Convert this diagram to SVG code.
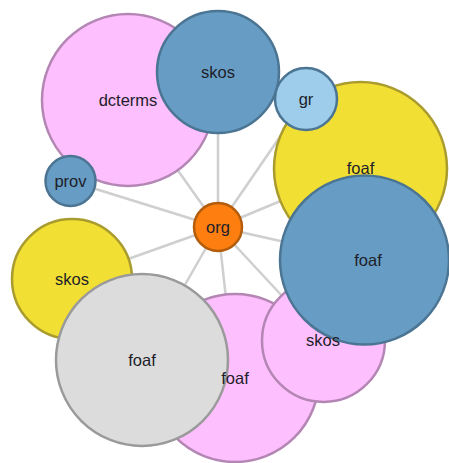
<svg xmlns="http://www.w3.org/2000/svg" width="449" height="463" viewBox="0 0 449 463">
<style>
.link{stroke:#cfcfcf;stroke-width:2.5;fill:none}
circle{stroke-width:2.5}
.pink{fill:#fdbffd;stroke:#b486b4}
.blue{fill:#679dc4;stroke:#4b7593}
.lblue{fill:#9dcdea;stroke:#4b7593}
.yellow{fill:#f2df33;stroke:#a99b2e}
.gray{fill:#dcdcdc;stroke:#9a9a9a}
.orange{fill:#fe7f0f;stroke:#b25c0c}
text{font-family:"Liberation Sans",Arial,sans-serif;font-size:16.5px;fill:#1e1e2a;text-anchor:middle}
</style>
<rect width="449" height="463" fill="#fff"/>
<g id="links">
<line class="link" x1="218" y1="227" x2="128" y2="100"/>
<line class="link" x1="218" y1="227" x2="218" y2="72"/>
<line class="link" x1="218" y1="227" x2="306" y2="99"/>
<line class="link" x1="218" y1="227" x2="360" y2="168"/>
<line class="link" x1="218" y1="227" x2="365" y2="260"/>
<line class="link" x1="218" y1="227" x2="323" y2="340"/>
<line class="link" x1="218" y1="227" x2="235" y2="378"/>
<line class="link" x1="218" y1="227" x2="142" y2="360"/>
<line class="link" x1="218" y1="227" x2="72" y2="279"/>
<line class="link" x1="218" y1="227" x2="70" y2="181"/>
</g>
<g id="n-dcterms"><circle class="pink" cx="128" cy="100" r="86"/></g>
<g id="n-skos1"><circle class="blue" cx="218" cy="72" r="61"/></g>
<g id="n-prov"><circle class="blue" cx="70.5" cy="181" r="25"/></g>
<g id="n-skos2"><circle class="yellow" cx="72" cy="279" r="60"/></g>
<g id="n-foaf-pink"><circle class="pink" cx="235" cy="378" r="84"/></g>
<g id="n-foaf-gray"><circle class="gray" cx="142" cy="360" r="86"/></g>
<g id="n-skos3"><circle class="pink" cx="323.5" cy="340.5" r="61.5"/></g>
<g id="n-foaf-yellow"><circle class="yellow" cx="360.5" cy="168.5" r="86.5"/></g>
<g id="n-gr"><circle class="lblue" cx="306" cy="99" r="31"/></g>
<g id="n-foaf-blue"><circle class="blue" cx="364.5" cy="260" r="84.5"/></g>
<g id="n-org"><circle class="orange" cx="218" cy="227" r="24"/></g>
<g id="labels">
<text x="128" y="100" dy="0.35em">dcterms</text>
<text x="218" y="72" dy="0.35em">skos</text>
<text x="70.5" y="181" dy="0.35em">prov</text>
<text x="72" y="279" dy="0.35em">skos</text>
<text x="235" y="378" dy="0.35em">foaf</text>
<text x="142" y="360" dy="0.35em">foaf</text>
<text x="323" y="340" dy="0.35em">skos</text>
<text x="360.5" y="168" dy="0.35em">foaf</text>
<text x="306" y="99" dy="0.35em">gr</text>
<text x="368" y="260" dy="0.35em">foaf</text>
<text x="218" y="227" dy="0.35em">org</text>
</g>
</svg>
